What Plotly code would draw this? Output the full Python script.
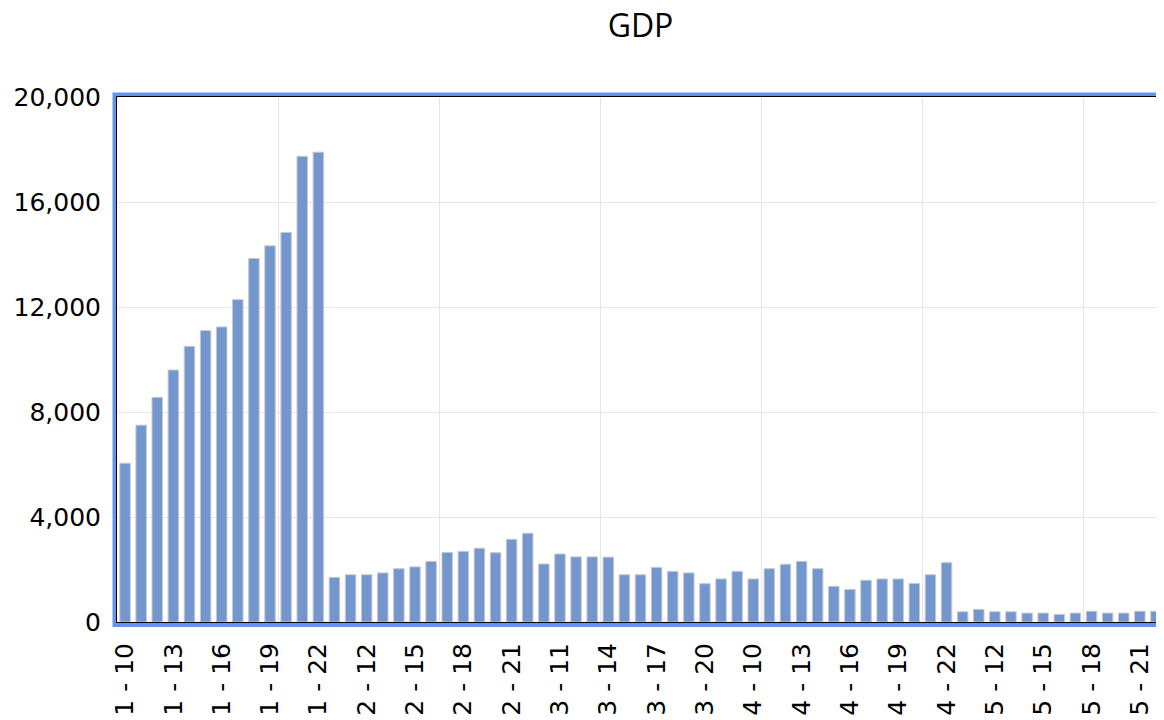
import plotly.graph_objects as go

months = [1, 2, 3, 4, 5]
days = [10, 11, 12, 13, 14, 15, 16, 17, 18, 19, 20, 21, 22]
categories = [f"{m} - {d}" for m in months for d in days]

gdp_m1 = [6050, 7500, 8560, 9600, 10500, 11100, 11240, 12280, 13850, 14330, 14840, 17740, 17900]
gdp_m2 = [1700, 1800, 1800, 1870, 2030, 2100, 2310, 2650, 2690, 2810, 2640, 3150, 3380]
gdp_m3 = [2210, 2590, 2480, 2480, 2470, 1800, 1800, 2080, 1930, 1870, 1460, 1640, 1930]
gdp_m4 = [1640, 2030, 2200, 2310, 2030, 1360, 1240, 1590, 1640, 1640, 1470, 1800, 2260]
gdp_m5 = [390, 480, 390, 390, 340, 340, 290, 340, 410, 340, 340, 410, 410]
values = gdp_m1 + gdp_m2 + gdp_m3 + gdp_m4 + gdp_m5

y_ticks = [0, 4000, 8000, 12000, 16000, 20000]

idx = list(range(len(categories)))
tick_idx = idx[::3]
tick_text = [categories[i] for i in tick_idx]

fig = go.Figure(go.Bar(
    x=idx, y=values,
    marker=dict(color="#7396CF", line=dict(color="#C8C8C8", width=1)),
    hovertext=categories,
))

# page has an 8px default body margin
W, H = 1156, 712
L, R, T, B = 109, 0, 89, 98
pw, ph = W - L - R, H - T - B

fig.update_layout(
    width=W, height=H,
    margin=dict(l=L, r=R, t=T, b=B, autoexpand=False),
    paper_bgcolor="white", plot_bgcolor="white",
    bargap=0.35,
    showlegend=False,
    title=dict(text="GDP", x=0.5, xref="paper", xanchor="center",
               y=1 - 18 / H, yref="container", yanchor="middle",
               font=dict(family="Open Sans", size=32, color="black")),
    font=dict(family="DejaVu Sans", size=24, color="black"),
    xaxis=dict(
        range=[-0.5, len(categories) - 0.5], automargin=False,
        tickmode="array", tickvals=tick_idx, ticktext=tick_text,
        tickangle=-90, showgrid=False, zeroline=False,
        showline=True, linecolor="black", linewidth=1, mirror=True,
        ticks="", ticklabelstandoff=10,
        tickfont=dict(family="DejaVu Sans", size=25, color="black"),
        minor=dict(tickmode="linear", tick0=9.5, dtick=10, showgrid=True,
                   gridcolor="#E6E6E6", gridwidth=1, ticks=""),
    ),
    yaxis=dict(
        range=[0, 20000], automargin=False, tickmode="array", tickvals=y_ticks,
        tickformat=",", showgrid=True, gridcolor="#E6E6E6", gridwidth=1,
        zeroline=False, showline=True, linecolor="black", linewidth=1, mirror=True,
        ticks="", ticklabelstandoff=10,
        tickfont=dict(family="DejaVu Sans", size=25, color="black"),
    ),
    shapes=[dict(
        type="rect", xref="paper", yref="paper",
        x0=-2.5 / pw, x1=1 + 2.5 / pw, y0=-3 / ph, y1=1 + 2.5 / ph,
        line=dict(color="#6495ED", width=4), fillcolor="rgba(0,0,0,0)",
        layer="below",
    )],
)

fig.write_html("out.html")
